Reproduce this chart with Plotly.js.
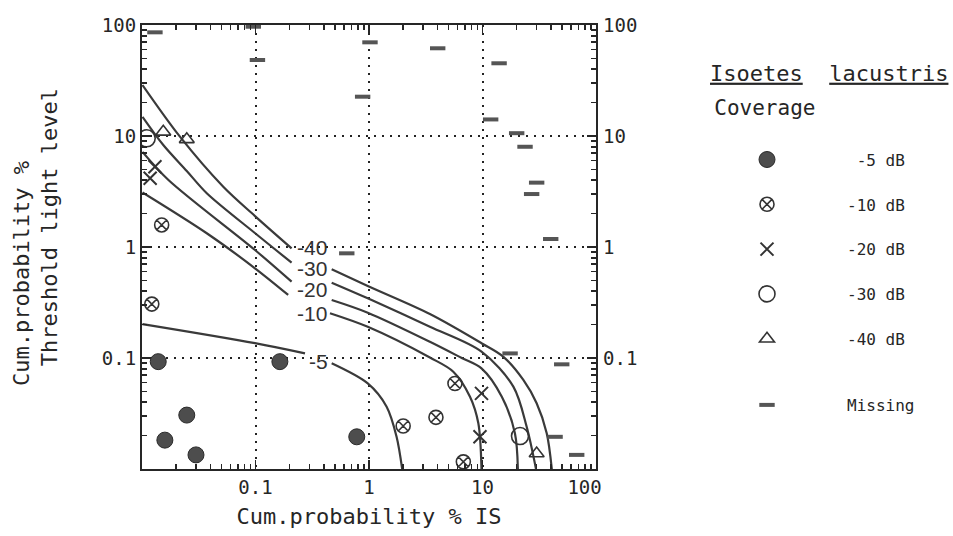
<!DOCTYPE html>
<html><head><meta charset="utf-8">
<script src="https://cdn.plot.ly/plotly-3.0.1.min.js"></script>
<style>html,body{margin:0;padding:0;background:#fff}#chart{width:953px;height:536px}</style>
</head><body><div id="chart"></div>
<script>
// ---- Threshold curves (null = gap where the level label sits)
const curve5X  = [0.0101, 0.099, 0.273, null, 0.469, 0.975, 1.43, 1.75, 1.96];
const curve5Y  = [0.202, 0.136, 0.110, null, 0.0896, 0.059, 0.0364, 0.0195, 0.01];
const curve10X = [0.0101, 0.0372, 0.099, 0.194, null, 0.453, 0.975, 3.44, 5.53, 7.76, 9.19, 9.8];
const curve10Y = [3.1, 1.33, 0.643, 0.37, null, 0.253, 0.191, 0.101, 0.0753, 0.0448, 0.0258, 0.01];
const curve20X = [0.0101, 0.0171, 0.099, 0.208, null, 0.469, 0.975, 3.44, 6.56, 9.8, 14.8, 19.3, 20.5];
const curve20Y = [7.2, 4.02, 0.94, 0.487, null, 0.333, 0.256, 0.140, 0.1, 0.0807, 0.0448, 0.021, 0.01];
const curve30X = [0.0101, 0.0154, 0.0248, 0.0372, 0.0993, 0.208, null, 0.469, 0.975, 3.44, 9.8, 18.7, 24.5, 29.6];
const curve30Y = [14.9, 8.3, 4.84, 3.05, 1.33, 0.723, null, 0.477, 0.345, 0.191, 0.114, 0.0552, 0.024, 0.01];
const curve40X = [0.0101, 0.0216, 0.052, 0.099, 0.208, null, 0.469, 0.975, 3.44, 9.8, 15.2, 22.9, 30.0, 36.8, 40.8];
const curve40Y = [28.8, 9.86, 3.49, 1.90, 0.973, null, 0.63, 0.445, 0.249, 0.136, 0.103, 0.0634, 0.0391, 0.021, 0.01];
const curveLevels = ['-5', '-10', '-20', '-30', '-40'];

// ---- Observations by coverage class
const cov5X  = [0.0139, 0.164, 0.0248, 0.0159, 0.0299, 0.78];
const cov5Y  = [0.0927, 0.0927, 0.0306, 0.0182, 0.0134, 0.0195];
const cov10X = [0.0149, 0.0122, 2.0, 3.89, 5.72, 6.78];
const cov10Y = [1.58, 0.306, 0.0244, 0.0292, 0.059, 0.0116];
const cov20X = [0.013, 0.0118, 9.8, 9.5];
const cov20Y = [5.29, 4.16, 0.048, 0.0195];
const cov30X = [0.011, 21.4];
const cov30Y = [9.53, 0.0198];
const cov40X = [0.0154, 0.0248, 30.0];
const cov40Y = [10.9, 9.33, 0.0138];
const missX  = [0.013, 0.0956, 0.104, 1.02, 0.879, 4.03, 14.0, 11.8, 20.0, 23.7, 30.0, 27.1, 39.9, 0.637, 17.5, 49.9, 43.6, 67.6];
const missY  = [85.9, 96.5, 48.4, 69.8, 22.6, 61.7, 45.2, 14.1, 10.6, 8.0, 3.8, 3.0, 1.18, 0.877, 0.110, 0.0877, 0.0195, 0.0134];
const classNames = ['\u00a0-5 dB', '-10 dB', '-20 dB', '-30 dB', '-40 dB', 'Missing'];

// ---- Tick labels (decade ticks; 0.01 is left unlabeled as in the original)
const xLabelAlias = {'0.01': ' ', '100': '100\u00a0\u00a0'};
const yLabelAlias = {'0.01': ' '};
const rightTickVals = [0.1, 1, 10, 100];
const rightTickText = ['0.1', '1', '10', '100'];

const mono = 'DejaVu Sans Mono';
const ink = '#262626';

const curves = [[curve5X, curve5Y], [curve10X, curve10Y], [curve20X, curve20Y], [curve30X, curve30Y], [curve40X, curve40Y]];
const traces = curves.map((c, i) => ({
  type: 'scatter', mode: 'lines', x: c[0], y: c[1], name: curveLevels[i] + ' curve',
  line: {color: '#3a3a3a', width: 2.2, shape: 'spline', smoothing: 0.9},
  showlegend: false, connectgaps: false, hoverinfo: 'skip'
}));

traces.push(
  {type: 'scatter', mode: 'markers', x: cov5X, y: cov5Y, name: classNames[0], legendgroup: 'a',
   marker: {symbol: 'circle', size: 16, color: '#4d4d4d', line: {color: '#2a2a2a', width: 1}}},
  {type: 'scatter', mode: 'markers', x: cov10X, y: cov10Y, name: classNames[1], legendgroup: 'b',
   marker: {symbol: 'circle-x-open', size: 14, color: '#333', line: {color: '#333', width: 1.6}}},
  {type: 'scatter', mode: 'markers', x: cov20X, y: cov20Y, name: classNames[2], legendgroup: 'c',
   marker: {symbol: 'x-thin-open', size: 13, color: '#333', line: {color: '#333', width: 2}}},
  {type: 'scatter', mode: 'markers', x: cov30X, y: cov30Y, name: classNames[3], legendgroup: 'd',
   marker: {symbol: 'circle-open', size: 17, color: '#333', line: {color: '#333', width: 1.6}}},
  {type: 'scatter', mode: 'markers', x: cov40X, y: cov40Y, name: classNames[4], legendgroup: 'e',
   marker: {symbol: 'triangle-up-open', size: 13, color: '#333', line: {color: '#333', width: 1.6}}},
  {type: 'scatter', mode: 'markers', x: missX, y: missY, name: classNames[5], legend: 'legend2',
   marker: {symbol: 'line-ew-open', size: 11, color: '#555', line: {color: '#555', width: 4}}}
);

const labelPos = [[0.362, 0.0927], [0.312, 0.252], [0.312, 0.41], [0.312, 0.64], [0.313, 1.0]];
const annotations = curveLevels.map((t, i) => ({
  xref: 'x', yref: 'y', x: Math.log10(labelPos[i][0]), y: Math.log10(labelPos[i][1]),
  text: t, showarrow: false, xanchor: 'center', yanchor: 'middle',
  font: {family: 'Liberation Sans', size: 21, color: '#333'}
}));
// right-hand tick labels (same decades as the left axis)
rightTickVals.forEach((v, i) => annotations.push({
  xref: 'paper', yref: 'y', x: 1.011, y: Math.log10(v), text: rightTickText[i],
  showarrow: false, xanchor: 'left', yanchor: 'middle', font: {family: mono, size: 19, color: ink}
}));

function makeAxis(extra) {
  return Object.assign({
    type: 'log', range: [-2, 2], tickmode: 'linear', tick0: 0, dtick: 1,
    ticks: 'inside', ticklen: 9, tickwidth: 1.5, tickcolor: ink,
    showline: true, linewidth: 2, linecolor: ink, mirror: 'ticks',
    showgrid: true, gridcolor: '#222', griddash: '2px,6px', gridwidth: 2,
    zeroline: false, tickfont: {family: mono, size: 19, color: ink},
    minor: {ticks: 'inside', ticklen: 5, tickwidth: 1.5, tickcolor: ink, dtick: 'D1', showgrid: false}
  }, extra);
}

const layout = {
  width: 953, height: 536,
  margin: {l: 142, r: 357, t: 25, b: 67},
  paper_bgcolor: '#fff', plot_bgcolor: '#fff',
  showlegend: true,
  title: {text: '<u>Isoetes</u>\u00a0\u00a0<u>lacustris</u>', xref: 'container', yref: 'container',
          x: 710 / 953, xanchor: 'left', y: 1 - 73 / 536, yanchor: 'middle',
          font: {family: mono, size: 22, color: ink}},
  xaxis: makeAxis({labelalias: xLabelAlias,
          title: {text: 'Cum.probability % IS', font: {family: mono, size: 22, color: ink}, standoff: 12}}),
  yaxis: makeAxis({labelalias: yLabelAlias,
          title: {text: '\u00a0\u00a0\u00a0Cum.probability %\u00a0\u00a0\u00a0\u00a0<br>\u00a0\u00a0\u00a0Threshold light level',
                  font: {family: mono, size: 22, color: ink}, standoff: 38}}),
  legend: {x: (687 - 142) / 454, y: (469 - 88) / 444, xanchor: 'left', yanchor: 'top',
           itemwidth: 150, tracegroupgap: 21, bgcolor: 'rgba(0,0,0,0)',
           font: {family: mono, size: 16, color: ink},
           title: {text: '\u00a0\u00a0Coverage<br>\u00a0', font: {family: mono, size: 21, color: ink}}},
  legend2: {x: (687 - 142) / 454, y: (469 - 388) / 444, xanchor: 'left', yanchor: 'top',
            itemwidth: 150, bgcolor: 'rgba(0,0,0,0)',
            font: {family: mono, size: 16, color: ink}},
  annotations: annotations
};

Plotly.newPlot('chart', traces, layout, {displayModeBar: false, staticPlot: true});
</script>
</body></html>
